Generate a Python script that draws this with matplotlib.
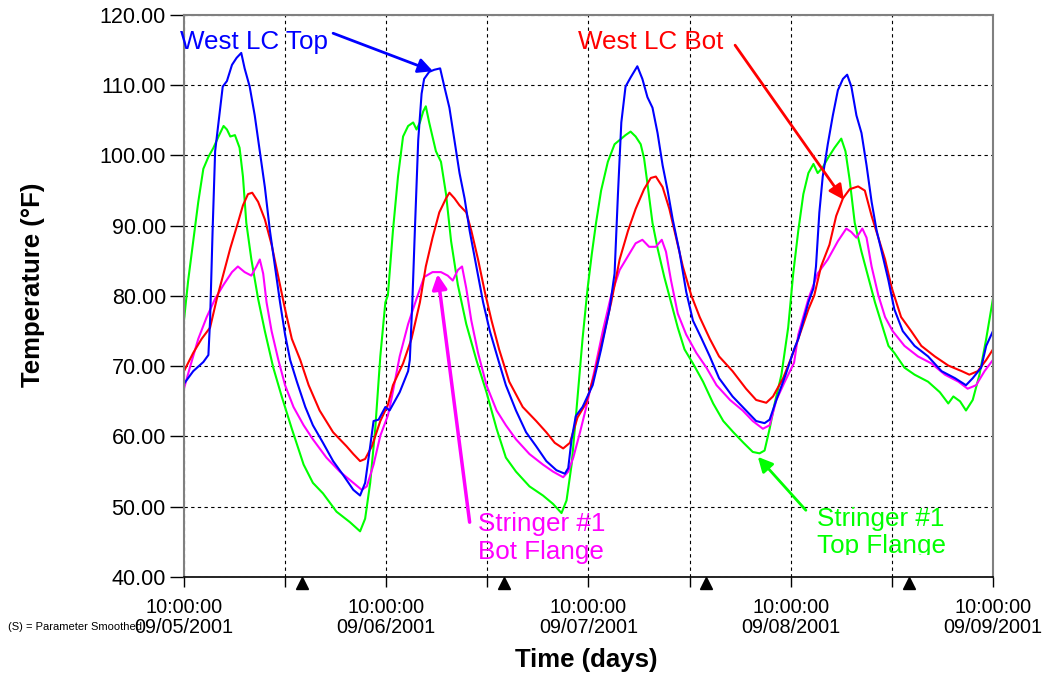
import matplotlib
matplotlib.use("Agg")
import matplotlib.pyplot as plt
from matplotlib.patches import Rectangle

# time in hours since 09/05/2001 10:00:00, temperature in deg F
blue_t = [0, 1.1, 2.3, 2.9, 3.1, 3.4, 3.7, 4.1, 4.6, 5.1, 5.7, 6.25, 6.8, 7.2, 7.8, 8.4, 9.0, 9.6,
          10.2, 10.8, 11.4, 12.0, 12.6, 13.4, 14.4, 15.3, 16.5, 17.7, 18.9, 20.1, 20.9, 21.5, 22.1,
          22.5, 23.1, 23.9, 24.4, 25.6, 26.6, 26.8, 27.1, 27.4, 27.8, 28.2, 28.5, 29.1, 29.7, 30.4,
          30.9, 31.5, 32.1, 32.7, 33.3, 33.9, 34.7, 35.5, 36.3, 37.3, 38.2, 39.4, 40.6, 41.8, 43.0,
          44.2, 45.2, 45.6, 46.0, 46.5, 47.3, 48.5, 49.5, 50.5, 51.1, 51.5, 51.9, 52.4, 53.0, 53.8,
          54.4, 55.0, 55.6, 56.2, 56.8, 57.4, 58.0, 58.8, 59.6, 60.4, 61.4, 62.4, 63.5, 65.1, 66.7,
          67.9, 68.9, 69.5, 70.3, 71.4, 72.4, 72.9, 74.1, 74.7, 75.0, 75.4, 75.8, 76.4, 77.0, 77.6,
          78.2, 78.7, 79.2, 79.8, 80.4, 81.0, 81.6, 82.2, 82.8, 83.6, 84.3, 85.3, 86.7, 88.3, 89.9,
          91.5, 92.8, 93.6, 94.6, 95.2, 96.0]
blue_v = [67.5, 69.3, 70.6, 71.6, 76.5, 89.3, 100.6, 104.7, 109.8, 110.6, 112.9, 113.9, 114.6, 112.4,
          109.8, 105.7, 100.6, 95.5, 89.3, 84.2, 79.1, 74.5, 70.9, 67.8, 64.2, 61.6, 59.1, 56.5, 54.5,
          52.4, 51.6, 53.4, 58.6, 62.2, 62.4, 64.2, 63.7, 66.3, 69.3, 70.9, 79.1, 89.3, 102.2, 108.8,
          110.9, 111.9, 112.2, 112.4, 109.8, 106.8, 102.2, 97.5, 93.9, 89.3, 84.2, 79.1, 75.0, 70.9,
          67.3, 63.7, 60.6, 58.6, 56.5, 55.2, 54.7, 55.5, 59.6, 62.9, 64.2, 67.3, 72.4, 78.1, 83.2,
          94.5, 104.7, 109.8, 111.1, 112.7, 110.9, 108.3, 106.8, 103.2, 98.6, 95.0, 90.9, 86.3, 80.6,
          76.5, 74.0, 71.4, 68.3, 65.7, 63.7, 62.2, 61.9, 62.4, 65.2, 68.8, 72.4, 73.9, 79.1, 81.1,
          84.2, 91.9, 97.0, 101.6, 105.7, 109.3, 110.9, 111.5, 109.8, 105.7, 103.2, 98.6, 93.4, 89.3,
          86.3, 82.2, 78.1, 75.0, 72.9, 71.4, 69.3, 68.3, 67.3, 68.3, 69.8, 72.9, 75.0]

green_t = [0, 0.5, 1.1, 1.7, 2.3, 2.9, 3.5, 4.1, 4.7, 5.1, 5.5, 6.05, 6.6, 7.0, 7.4, 8.0, 8.8, 9.6,
           10.6, 11.6, 12.8, 14.2, 15.3, 16.5, 18.1, 19.7, 20.9, 21.5, 22.1, 22.7, 23.3, 23.9, 24.2,
           24.8, 25.4, 26.0, 26.6, 27.2, 27.6, 28.0, 28.4, 28.7, 29.1, 29.9, 30.5, 31.1, 31.7, 32.5,
           33.5, 34.7, 35.9, 37.1, 38.2, 39.4, 41.0, 42.6, 43.8, 44.8, 45.4, 46.0, 46.5, 47.3, 47.9,
           48.4, 48.9, 49.5, 50.3, 51.1, 51.7, 52.4, 53.0, 53.6, 54.2, 54.6, 55.0, 55.6, 56.2, 57.0,
           57.8, 58.6, 59.4, 60.4, 61.6, 62.8, 64.0, 65.2, 66.4, 67.5, 68.3, 68.9, 69.5, 70.1, 70.9,
           71.7, 72.3, 72.9, 73.5, 74.1, 74.7, 75.2, 75.8, 76.4, 77.2, 78.0, 78.5, 79.0, 79.6, 80.4,
           81.2, 82.0, 82.8, 83.6, 84.3, 85.5, 86.7, 88.3, 89.7, 90.7, 91.3, 92.1, 92.8, 93.6, 94.4,
           95.2, 96.0]
green_v = [76.5, 82.2, 87.8, 93.4, 98.1, 99.8, 101.1, 102.7, 104.2, 103.7, 102.7, 102.9, 101.1, 97.0,
           90.4, 85.2, 79.6, 75.0, 69.8, 65.7, 61.1, 56.0, 53.4, 51.9, 49.3, 47.8, 46.5, 48.3, 53.4,
           61.1, 71.4, 79.1, 80.1, 89.3, 97.0, 102.7, 104.2, 104.7, 103.7, 104.7, 106.3, 107.0, 104.7,
           100.6, 99.1, 94.5, 87.8, 81.6, 76.0, 70.9, 66.3, 61.1, 57.0, 55.0, 52.9, 51.6, 50.4, 49.1,
           50.9, 56.0, 62.7, 73.9, 81.1, 86.0, 90.4, 95.0, 99.1, 101.6, 102.2, 102.9, 103.4, 102.7,
           101.6, 99.6, 96.0, 90.4, 86.8, 82.7, 79.1, 75.5, 72.4, 70.4, 67.8, 64.7, 62.2, 60.6, 59.1,
           57.8, 57.6, 58.0, 61.1, 64.7, 68.8, 75.5, 83.2, 89.3, 94.5, 97.5, 98.8, 97.5, 98.3, 99.6,
           101.1, 102.4, 100.6, 96.5, 90.4, 86.3, 82.7, 79.1, 76.0, 72.9, 71.9, 69.8, 68.8, 67.8, 66.3,
           64.7, 65.7, 65.0, 63.7, 65.2, 68.8, 73.9, 79.6]

red_t = [0, 1.1, 2.1, 3.1, 3.9, 4.7, 5.5, 6.25, 7.0, 7.6, 8.1, 8.8, 9.6, 10.4, 11.2, 12.0, 12.8, 13.8,
         14.8, 16.1, 17.7, 19.3, 20.1, 20.9, 21.5, 22.3, 23.3, 24.2, 24.8, 26.0, 27.0, 28.0, 28.7,
         29.5, 30.3, 31.1, 31.5, 32.1, 32.7, 33.5, 34.1, 34.9, 35.7, 36.5, 37.4, 38.6, 40.2, 41.8,
         43.0, 44.0, 45.0, 45.8, 46.7, 47.7, 48.7, 49.7, 50.7, 51.7, 52.7, 53.6, 54.6, 55.4, 56.0,
         56.8, 57.6, 58.4, 59.2, 60.2, 61.2, 62.4, 63.5, 65.1, 66.7, 67.9, 69.1, 69.9, 71.1, 72.0,
         72.9, 74.1, 74.8, 75.6, 76.6, 77.4, 78.2, 79.0, 80.0, 80.8, 81.6, 82.4, 83.2, 84.0, 85.1,
         86.3, 87.5, 89.1, 90.7, 92.3, 93.2, 94.2, 95.2, 96.0]
red_v = [69.3, 71.9, 73.9, 75.5, 79.6, 83.2, 86.8, 89.8, 92.9, 94.5, 94.7, 93.4, 90.9, 87.3, 82.7,
         78.1, 73.9, 70.9, 67.3, 63.7, 60.6, 58.6, 57.5, 56.5, 56.8, 58.6, 62.2, 64.5, 67.3, 70.4,
         73.9, 79.1, 84.2, 88.3, 91.9, 93.9, 94.7, 93.9, 92.9, 91.9, 89.3, 85.2, 80.6, 76.5, 72.4,
         67.8, 64.2, 62.2, 60.6, 59.1, 58.3, 59.1, 62.7, 64.7, 68.8, 73.9, 79.1, 85.2, 89.3, 92.4,
         95.2, 96.8, 97.0, 95.5, 92.4, 88.3, 84.2, 80.1, 77.0, 73.9, 71.4, 69.3, 66.8, 65.2, 64.8,
         65.7, 68.3, 71.0, 73.9, 78.1, 80.1, 84.2, 87.3, 91.4, 93.9, 95.2, 95.6, 95.0, 91.4, 88.3,
         85.2, 81.1, 77.0, 75.0, 72.9, 71.4, 70.1, 69.3, 68.8, 69.3, 70.9, 72.4]

magenta_t = [0, 0.7, 1.7, 2.7, 3.7, 4.7, 5.7, 6.4, 7.2, 8.0, 8.6, 9.0, 9.4, 9.8, 10.4, 11.2, 12.0,
             13.0, 14.2, 15.3, 16.9, 18.5, 20.1, 21.1, 21.7, 22.5, 23.3, 24.2, 24.6, 25.6, 26.6,
             27.6, 28.5, 29.5, 30.5, 31.3, 31.9, 32.5, 33.0, 33.5, 34.1, 34.9, 35.9, 37.1, 38.2,
             39.4, 41.0, 42.6, 43.8, 45.0, 45.6, 46.2, 47.0, 47.7, 48.7, 49.7, 50.7, 51.7, 52.7,
             53.6, 54.4, 55.2, 56.0, 56.7, 57.2, 57.8, 58.6, 59.6, 60.8, 62.0, 63.2, 64.8, 66.3,
             67.5, 68.7, 69.5, 70.3, 71.3, 72.4, 72.9, 74.1, 75.2, 76.4, 77.6, 78.6, 79.2, 79.8,
             80.5, 81.0, 81.6, 82.4, 83.2, 84.1, 85.5, 87.1, 88.7, 90.3, 91.9, 93.0, 94.0, 95.0, 96.0]
magenta_v = [66.8, 69.8, 73.9, 77.0, 79.6, 81.6, 83.4, 84.2, 83.4, 82.9, 84.2, 85.2, 83.2, 79.1,
             75.0, 70.9, 67.3, 64.2, 61.6, 59.6, 57.0, 55.0, 53.4, 52.4, 52.9, 56.0, 60.1, 63.0,
             65.2, 71.4, 76.0, 79.6, 82.7, 83.4, 83.4, 82.9, 82.2, 83.7, 84.2, 81.1, 76.5, 71.9,
             67.3, 63.7, 61.6, 59.6, 57.5, 56.0, 55.0, 54.2, 55.0, 57.0, 60.6, 64.0, 69.3, 75.0,
             80.1, 83.7, 85.7, 87.5, 88.0, 87.0, 87.0, 88.0, 86.3, 82.2, 77.5, 74.5, 71.9, 69.8,
             67.3, 65.2, 63.7, 62.2, 61.1, 61.6, 65.2, 67.8, 70.5, 74.5, 79.6, 83.2, 85.2, 87.8,
             89.6, 89.1, 88.3, 89.6, 88.3, 84.2, 80.1, 77.0, 75.0, 72.9, 71.4, 70.4, 68.8, 67.8,
             66.8, 67.3, 69.3, 70.9]

tick_hours = [0, 12, 24, 36, 48, 60, 72, 84, 96]
tick_labels = ["10:00:00\n09/05/2001", "", "10:00:00\n09/06/2001", "",
               "10:00:00\n09/07/2001", "", "10:00:00\n09/08/2001", "",
               "10:00:00\n09/09/2001"]
midnight_hours = [14, 38, 62, 86]
y_ticks = [40, 50, 60, 70, 80, 90, 100, 110, 120]

plt.rcParams["font.family"] = ["Liberation Sans", "DejaVu Sans"]

fig = plt.figure(figsize=(10.44, 6.75), dpi=100)
ax = fig.add_axes([0.1762, 0.1452, 0.7749, 0.8326])

ax.plot(green_t, green_v, color="#00ff00", lw=1.5)
ax.plot(magenta_t, magenta_v, color="#ff00ff", lw=1.5)
ax.plot(red_t, red_v, color="#ff0000", lw=1.5)
ax.plot(blue_t, blue_v, color="#0000ff", lw=1.5)

ax.set_xlim(0, 96)
ax.set_ylim(40, 120)
ax.set_xticks(tick_hours)
ax.set_xticklabels(tick_labels, fontsize=14.3, linespacing=1.1)
ax.set_yticks(y_ticks)
ax.set_yticklabels([f"{v:.2f}" for v in y_ticks], fontsize=15.5)
ax.tick_params(axis="x", direction="out", length=7, width=1, pad=8)
ax.tick_params(axis="y", direction="out", length=10, width=1, pad=3)

ax.grid(True, color="black", linestyle=(0, (3, 3)), linewidth=0.8)
for side in ["top", "left", "right"]:
    ax.spines[side].set_color("#808080")
    ax.spines[side].set_linewidth(1.5)
ax.spines["bottom"].set_color("black")
ax.spines["bottom"].set_linewidth(1.2)

ax.plot(midnight_hours, [-0.0107] * len(midnight_hours), ls="none", marker="^",
        ms=9, color="black", transform=ax.get_xaxis_transform(), clip_on=False)

ax.set_ylabel("Temperature (°F)", fontsize=18.5, fontweight="bold")
ax.yaxis.set_label_coords(-0.172, 0.52)
ax.set_xlabel("Time (days)", fontsize=18.5, fontweight="bold")
ax.xaxis.set_label_coords(0.497, -0.148)
ax.xaxis.label.set_va("center")

fig.text(8 / 1044, 1 - 627 / 675, "(S) = Parameter Smoothed", fontsize=8, va="center")

label_size = 18.7
ax.annotate("", xy=(29.55, 112.0), xytext=(17.7, 117.4),
            arrowprops=dict(arrowstyle="-|>", color="#0000ff", lw=2, mutation_scale=22,
                            shrinkA=0, shrinkB=0))
ax.text(-0.47, 116.2, "West LC Top", color="#0000ff", fontsize=label_size,
        ha="left", va="center", clip_on=False)

ax.annotate("", xy=(78.3, 93.7), xytext=(65.4, 115.7),
            arrowprops=dict(arrowstyle="-|>", color="#ff0000", lw=2, mutation_scale=22,
                            shrinkA=0, shrinkB=0))
ax.text(46.75, 116.2, "West LC Bot", color="#ff0000", fontsize=label_size,
        ha="left", va="center")

ax.annotate("", xy=(30.1, 83.1), xytext=(33.9, 47.8),
            arrowprops=dict(arrowstyle="-|>", color="#ff00ff", lw=2.5, mutation_scale=22,
                            shrinkA=0, shrinkB=0))
ax.text(34.9, 45.6, "Stringer #1\nBot Flange", color="#ff00ff", fontsize=label_size,
        ha="left", va="center", linespacing=1.2)

ax.annotate("", xy=(68.1, 57.1), xytext=(73.8, 49.5),
            arrowprops=dict(arrowstyle="-|>", color="#00ff00", lw=2, mutation_scale=22,
                            shrinkA=0, shrinkB=0))
top_flange = ax.text(75.1, 46.3, "Stringer #1\nTop Flange", color="#00ff00",
                     fontsize=label_size, ha="left", va="center", linespacing=1.15)
# the original label box cuts off the bottom of "Top Flange"
top_flange.set_clip_on(True)
top_flange.set_clip_path(Rectangle((60, 43.1), 40, 80, transform=ax.transData))

fig.savefig("out.png", dpi=100)
